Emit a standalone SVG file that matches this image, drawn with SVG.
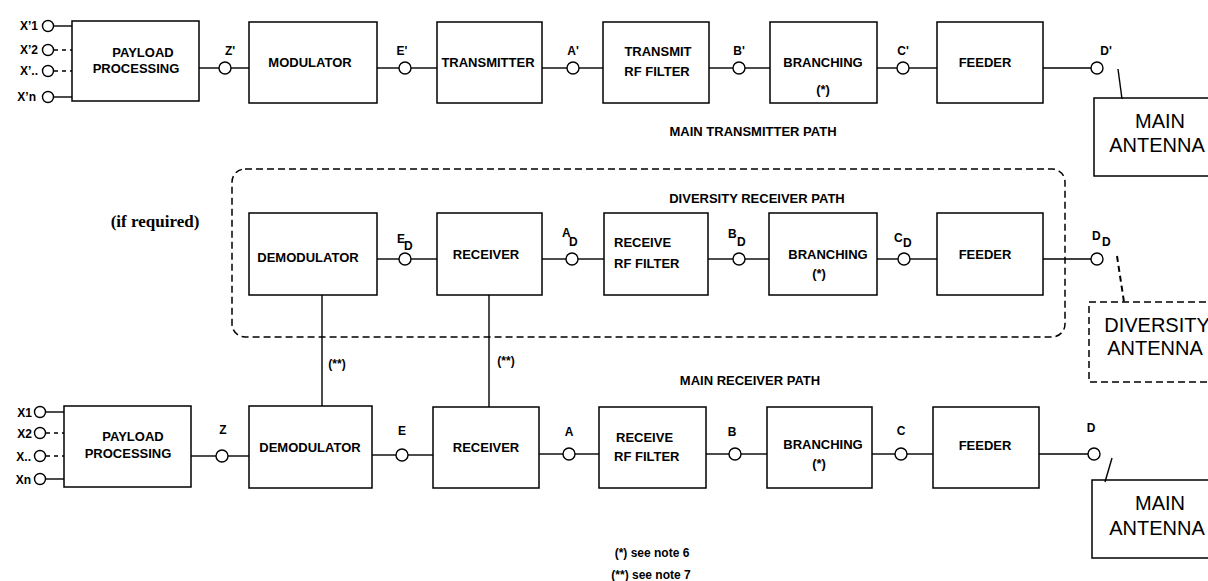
<svg xmlns="http://www.w3.org/2000/svg" width="1208" height="581" viewBox="0 0 1208 581">
<style>
.box{fill:#fff;stroke:#000;stroke-width:1.5}
.ln{stroke:#000;stroke-width:1.4;fill:none}
.dl{stroke:#000;stroke-width:1.4;fill:none;stroke-dasharray:4,4}
.port{fill:#fff;stroke:#000;stroke-width:1.4}
.t{font-family:"Liberation Sans",Arial,sans-serif;font-weight:bold;font-size:13px;fill:#000}
.m{text-anchor:middle}
.e{text-anchor:end}
.p{font-family:"Liberation Sans",Arial,sans-serif;font-weight:bold;font-size:12px;fill:#000}
.ant{font-family:"Liberation Sans",Arial,sans-serif;font-size:20px;fill:#000;text-anchor:middle}
.dash{fill:none;stroke:#000;stroke-width:1.5;stroke-dasharray:7,4}
</style>
<rect width="1208" height="581" fill="#fff"/>

<!-- Top row nodes -->
<g id="payload_tx"><rect class="box" x="72" y="21" width="127" height="80"/><text class="t m" x="143" y="57">PAYLOAD</text><text class="t m" x="136" y="73">PROCESSING</text></g>
<g id="modulator"><rect class="box" x="249" y="22" width="128" height="81"/><text class="t m" x="310" y="67">MODULATOR</text></g>
<g id="transmitter"><rect class="box" x="437" y="22" width="105" height="81"/><text class="t m" x="488" y="67">TRANSMITTER</text></g>
<g id="tx_rf_filter"><rect class="box" x="603" y="22" width="106" height="81"/><text class="t m" x="658" y="56">TRANSMIT</text><text class="t m" x="657" y="76">RF FILTER</text></g>
<g id="branching_tx"><rect class="box" x="770" y="22" width="107" height="81"/><text class="t m" x="823" y="67">BRANCHING</text><text class="t m" x="823" y="94">(*)</text></g>
<g id="feeder_tx"><rect class="box" x="937" y="22" width="106" height="81"/><text class="t m" x="985" y="67">FEEDER</text></g>
<g id="main_antenna_tx"><rect class="box" x="1094" y="98" width="140" height="78"/><text class="ant" x="1160" y="128">MAIN</text><text class="ant" x="1157" y="152">ANTENNA</text></g>
<text class="t m" x="753" y="136">MAIN TRANSMITTER PATH</text>

<!-- Diversity group -->
<g id="diversity_group"><rect class="dash" x="232" y="169" width="833" height="168" rx="13"/><text class="t m" x="757" y="203">DIVERSITY RECEIVER PATH</text></g>
<text x="155" y="227" text-anchor="middle" font-family="'Liberation Serif','Times New Roman',serif" font-weight="bold" font-size="17">(if required)</text>

<g id="demod_div"><rect class="box" x="249" y="213" width="128" height="82"/><text class="t m" x="308" y="262">DEMODULATOR</text></g>
<g id="receiver_div"><rect class="box" x="437" y="213" width="105" height="82"/><text class="t m" x="486" y="259">RECEIVER</text></g>
<g id="rx_rf_div"><rect class="box" x="604" y="213" width="104" height="82"/><text class="t" x="614" y="247">RECEIVE</text><text class="t" x="614" y="268">RF FILTER</text></g>
<g id="branching_div"><rect class="box" x="769" y="213" width="108" height="82"/><text class="t m" x="828" y="259">BRANCHING</text><text class="t m" x="819" y="278">(*)</text></g>
<g id="feeder_div"><rect class="box" x="937" y="213" width="106" height="82"/><text class="t m" x="985" y="259">FEEDER</text></g>
<g id="diversity_antenna"><rect class="dash" x="1089" y="302" width="140" height="80"/><text class="ant" x="1157" y="332">DIVERSITY</text><text class="ant" x="1155" y="355">ANTENNA</text></g>
<text class="t m" x="750" y="385">MAIN RECEIVER PATH</text>

<!-- Bottom row -->
<g id="payload_rx"><rect class="box" x="64" y="406" width="127" height="81"/><text class="t m" x="133" y="441">PAYLOAD</text><text class="t m" x="128" y="458">PROCESSING</text></g>
<g id="demod_rx"><rect class="box" x="249" y="406" width="123" height="82"/><text class="t m" x="310" y="452">DEMODULATOR</text></g>
<g id="receiver_rx"><rect class="box" x="433" y="407" width="106" height="81"/><text class="t m" x="486" y="452">RECEIVER</text></g>
<g id="rx_rf_rx"><rect class="box" x="599" y="407" width="107" height="81"/><text class="t" x="616" y="442">RECEIVE</text><text class="t" x="614" y="461">RF FILTER</text></g>
<g id="branching_rx"><rect class="box" x="767" y="407" width="105" height="81"/><text class="t m" x="823" y="449">BRANCHING</text><text class="t m" x="819" y="468">(*)</text></g>
<g id="feeder_rx"><rect class="box" x="933" y="407" width="106" height="81"/><text class="t m" x="985" y="450">FEEDER</text></g>
<g id="main_antenna_rx"><rect class="box" x="1092" y="480" width="140" height="78"/><text class="ant" x="1160" y="510">MAIN</text><text class="ant" x="1157" y="535">ANTENNA</text></g>

<text class="p m" x="652" y="557">(*) see note 6</text>
<text class="p m" x="651" y="579">(**) see note 7</text>

<!-- Connectors -->
<g id="connectors">
<!-- top inputs -->
<line class="ln" x1="54" y1="26" x2="72" y2="26"/>
<line class="dl" x1="54" y1="50" x2="72" y2="50"/>
<line class="dl" x1="54" y1="71" x2="72" y2="71"/>
<line class="ln" x1="54" y1="97" x2="72" y2="97"/>
<circle class="port" cx="48" cy="26" r="5.5"/><circle class="port" cx="48" cy="50" r="5.5"/><circle class="port" cx="48" cy="71" r="5.5"/><circle class="port" cx="48" cy="97" r="5.5"/>
<!-- top chain -->
<line class="ln" x1="199" y1="68" x2="219" y2="68"/><line class="ln" x1="231" y1="68" x2="249" y2="68"/>
<line class="ln" x1="377" y1="68" x2="399" y2="68"/><line class="ln" x1="411" y1="68" x2="437" y2="68"/>
<line class="ln" x1="542" y1="68" x2="567" y2="68"/><line class="ln" x1="579" y1="68" x2="603" y2="68"/>
<line class="ln" x1="709" y1="68" x2="733" y2="68"/><line class="ln" x1="745" y1="68" x2="770" y2="68"/>
<line class="ln" x1="877" y1="68" x2="897" y2="68"/><line class="ln" x1="909" y1="68" x2="937" y2="68"/>
<line class="ln" x1="1043" y1="68" x2="1091" y2="68"/>
<line class="ln" x1="1118" y1="69" x2="1122" y2="99"/>
<circle class="port" cx="225" cy="68" r="6"/><circle class="port" cx="405" cy="68" r="6"/><circle class="port" cx="573" cy="68" r="6"/><circle class="port" cx="739" cy="68" r="6"/><circle class="port" cx="903" cy="68" r="6"/><circle class="port" cx="1097" cy="68" r="6"/>
<!-- diversity chain -->
<line class="ln" x1="377" y1="259" x2="399" y2="259"/><line class="ln" x1="411" y1="259" x2="437" y2="259"/>
<line class="ln" x1="542" y1="259" x2="566" y2="259"/><line class="ln" x1="578" y1="259" x2="604" y2="259"/>
<line class="ln" x1="708" y1="259" x2="733" y2="259"/><line class="ln" x1="745" y1="259" x2="769" y2="259"/>
<line class="ln" x1="877" y1="259" x2="898" y2="259"/><line class="ln" x1="910" y1="259" x2="937" y2="259"/>
<line class="ln" x1="1043" y1="259" x2="1091" y2="259"/>
<line x1="1117" y1="256" x2="1124" y2="302" stroke="#000" stroke-width="2" stroke-dasharray="6,4"/>
<circle class="port" cx="405" cy="259" r="6"/><circle class="port" cx="572" cy="259" r="6"/><circle class="port" cx="739" cy="259" r="6"/><circle class="port" cx="904" cy="259" r="6"/><circle class="port" cx="1097" cy="259" r="6"/>
<!-- vertical links -->
<line class="ln" x1="322" y1="295" x2="322" y2="406"/>
<line class="ln" x1="489" y1="295" x2="489" y2="407"/>
<!-- bottom inputs -->
<line class="ln" x1="46" y1="412" x2="64" y2="412"/>
<line class="dl" x1="46" y1="433" x2="64" y2="433" stroke-dasharray="0,5,4,20"/>
<line class="dl" x1="46" y1="456" x2="64" y2="456" stroke-dasharray="0,5,4,20"/>
<line class="ln" x1="46" y1="479" x2="64" y2="479"/>
<circle class="port" cx="40" cy="412" r="5.5"/><circle class="port" cx="40" cy="433" r="5.5"/><circle class="port" cx="40" cy="456" r="5.5"/><circle class="port" cx="40" cy="479" r="5.5"/>
<!-- bottom chain -->
<line class="ln" x1="191" y1="456" x2="216" y2="456"/><line class="ln" x1="228" y1="456" x2="249" y2="456"/>
<line class="ln" x1="372" y1="455" x2="396" y2="455"/><line class="ln" x1="408" y1="455" x2="433" y2="455"/>
<line class="ln" x1="539" y1="454" x2="563" y2="454"/><line class="ln" x1="575" y1="454" x2="599" y2="454"/>
<line class="ln" x1="706" y1="454" x2="729" y2="454"/><line class="ln" x1="741" y1="454" x2="767" y2="454"/>
<line class="ln" x1="872" y1="454" x2="895" y2="454"/><line class="ln" x1="907" y1="454" x2="933" y2="454"/>
<line class="ln" x1="1039" y1="454" x2="1088" y2="454"/>
<line class="ln" x1="1112" y1="458" x2="1105" y2="482"/>
<circle class="port" cx="222" cy="456" r="6"/><circle class="port" cx="402" cy="455" r="6"/><circle class="port" cx="569" cy="454" r="6"/><circle class="port" cx="735" cy="454" r="6"/><circle class="port" cx="901" cy="454" r="6"/><circle class="port" cx="1094" cy="454" r="6"/>
</g>

<!-- Port labels -->
<g id="labels">
<text class="p e" x="38" y="30">X’1</text><text class="p e" x="38" y="54">X’2</text><text class="p e" x="38" y="75">X’..</text><text class="p e" x="36" y="101">X’n</text>
<text class="p m" x="230" y="55">Z'</text><text class="p m" x="402" y="55">E'</text><text class="p m" x="573" y="55">A'</text><text class="p m" x="739" y="55">B'</text><text class="p m" x="903" y="55">C'</text><text class="p m" x="1106" y="55">D'</text>
<text class="p" x="397" y="243">E</text><text class="p" x="404" y="250">D</text>
<text class="p" x="562" y="237">A</text><text class="p" x="569" y="246">D</text>
<text class="p" x="728" y="238">B</text><text class="p" x="737" y="246">D</text>
<text class="p" x="894" y="242">C</text><text class="p" x="903" y="247">D</text>
<text class="p" x="1092" y="240">D</text><text class="p" x="1102" y="246">D</text>
<text class="p m" x="337" y="368">(**)</text><text class="p m" x="506" y="365">(**)</text>
<text class="p e" x="32" y="417">X1</text><text class="p e" x="32" y="438">X2</text><text class="p e" x="31" y="461">X..</text><text class="p e" x="31" y="484">Xn</text>
<text class="p m" x="223" y="434">Z</text><text class="p m" x="402" y="435">E</text><text class="p m" x="569" y="436">A</text><text class="p m" x="732" y="436">B</text><text class="p m" x="901" y="435">C</text><text class="p m" x="1091" y="432">D</text>
</g>
</svg>
